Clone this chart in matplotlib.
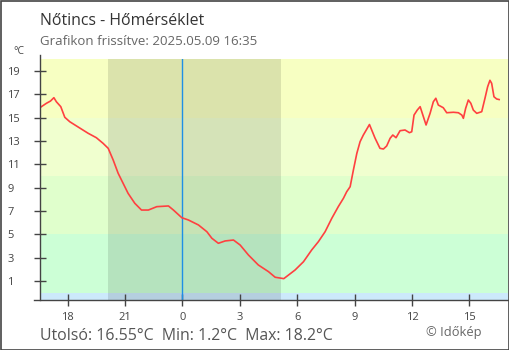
import matplotlib
matplotlib.use("Agg")
import matplotlib.pyplot as plt
from matplotlib.lines import Line2D
from matplotlib.patches import Rectangle

plt.rcParams['font.family'] = ['Open Sans', 'DejaVu Sans']

# ---- data ----
hours = [-7.40, -7.11, -6.90, -6.72, -6.59, -6.36, -6.15, -5.89, -5.62, -5.28,
         -4.93, -4.50, -4.15, -3.88, -3.62, -3.36, -3.10, -2.84, -2.49, -2.14,
         -1.78, -1.34, -0.73, -0.47, -0.03, 0.31, 0.84, 1.28, 1.54, 1.88,
         2.23, 2.67, 3.02, 3.45, 3.97, 4.50, 4.85, 5.30, 5.89, 6.33,
         6.76, 7.11, 7.46, 7.81, 8.15, 8.42, 8.59, 8.77, 8.94, 9.12,
         9.29, 9.46, 9.78, 10.07, 10.33, 10.51, 10.68, 10.86, 11.00, 11.17,
         11.38, 11.64, 11.87, 11.99, 12.11, 12.28, 12.43, 12.60, 12.74, 12.95,
         13.12, 13.25, 13.38, 13.64, 13.82, 14.17, 14.43, 14.61, 14.69, 14.81,
         14.95, 15.08, 15.21, 15.39, 15.65, 15.82, 15.96, 16.08, 16.17, 16.29,
         16.43, 16.56]
temps = [15.91, 16.23, 16.42, 16.71, 16.36, 15.94, 15.03, 14.65, 14.37, 14.02,
         13.66, 13.28, 12.80, 12.37, 11.37, 10.23, 9.37, 8.51, 7.66, 7.08,
         7.08, 7.37, 7.43, 7.08, 6.42, 6.23, 5.80, 5.22, 4.66, 4.23,
         4.43, 4.51, 4.08, 3.23, 2.37, 1.80, 1.32, 1.20, 1.94, 2.65,
         3.66, 4.37, 5.22, 6.37, 7.37, 8.09, 8.65, 9.08, 10.51, 11.94,
         12.94, 13.51, 14.41, 13.25, 12.37, 12.31, 12.57, 13.23, 13.51, 13.28,
         13.88, 13.94, 13.71, 13.79, 15.22, 15.65, 15.94, 15.08, 14.37, 15.37,
         16.36, 16.66, 16.08, 15.85, 15.42, 15.46, 15.42, 15.22, 14.94, 15.80,
         16.51, 16.23, 15.65, 15.37, 15.51, 16.66, 17.65, 18.20, 17.94, 16.79,
         16.60, 16.55]

x_ticks = [-6, -3, 0, 3, 6, 9, 12, 15]
x_labels = ['18', '21', '0', '3', '6', '9', '12', '15']
y_ticks = [1, 3, 5, 7, 9, 11, 13, 15, 17, 19]

band_edges = [-1, 0, 5, 10, 15, 20]
band_colors = ['#cce9fb', '#ccffd6', '#e0ffcc', '#f0ffcf', '#f7ffc2']
sunset, sunrise = -3.88, 5.16

title = 'Nőtincs - Hőmérséklet'
subtitle = 'Grafikon frissítve: 2025.05.09 16:35'
stats = 'Utolsó: 16.55°C  Min: 1.2°C  Max: 18.2°C'
credit = '© Időkép'

# ---- figure ----
W, H = 510, 350
fig = plt.figure(figsize=(W / 100, H / 100), dpi=100)
x0, x1, ytop, ybot = 40.5, 508.5, 59.3, 300
ax = fig.add_axes([x0 / W, (H - ybot) / H, (x1 - x0) / W, (ybot - ytop) / H])
xmin, xmax = -7.42, 17.05
ymin, ymax = -0.63, 20
ax.set_xlim(xmin, xmax)
ax.set_ylim(ymin, ymax)

for i, c in enumerate(band_colors):
    ax.axhspan(band_edges[i], band_edges[i + 1], color=c, lw=0, zorder=0)
ax.axvspan(sunset, sunrise, color='black', alpha=0.11, lw=0, zorder=1)
ax.axvline(0, color='#1e8fe6', lw=1.0, zorder=2)
ax.plot(hours, temps, color='#ff4040', lw=1.2, zorder=3)

for s in ax.spines.values():
    s.set_visible(False)

ax.set_xticks(x_ticks)
ax.set_xticklabels(x_labels)
ax.set_yticks(y_ticks)
ax.tick_params(axis='both', direction='inout', color='#444444', width=1,
               labelcolor='#444444', labelsize=8)
ax.tick_params(axis='x', length=9, pad=4)
ax.tick_params(axis='y', length=8, pad=20)
for lab in ax.get_yticklabels():
    lab.set_horizontalalignment('left')

# axis lines (extend slightly beyond plot)
fig.add_artist(Line2D([x0 / W, x0 / W], [(H - ybot) / H, (H - 55) / H],
                      color='#444444', lw=1))
fig.add_artist(Line2D([34 / W, x1 / W], [(H - ybot) / H, (H - ybot) / H],
                      color='#444444', lw=1))
# border
fig.add_artist(Rectangle((0.5 / W, 0.5 / H), (W - 1.5) / W, (H - 1.5) / H,
                         transform=fig.transFigure, fill=False,
                         edgecolor='#444444', lw=1.2))

fig.text(40 / W, 1 - 25 / H, title, fontsize=11.4, color='#333333',
         ha='left', va='baseline')
fig.text(40 / W, 1 - 45 / H, subtitle, fontsize=9.55, color='#666666',
         ha='left', va='baseline')
fig.text(19 / W, 1 - 51 / H, '°C', fontsize=7.5, color='#444444',
         ha='center', va='center')
fig.text(40 / W, 1 - 340 / H, stats, fontsize=11.4, color='#555555',
         ha='left', va='baseline')
fig.text(482 / W, 1 - 336 / H, credit, fontsize=9.3, color='#666666',
         ha='right', va='baseline')

fig.savefig('out.png', dpi=100)
